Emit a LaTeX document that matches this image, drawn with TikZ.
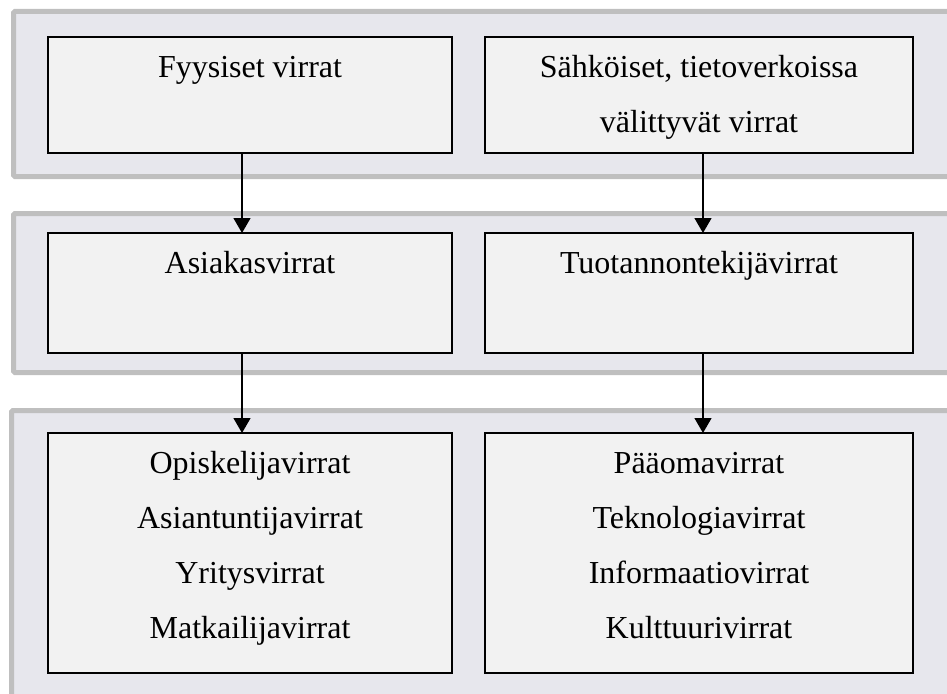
\documentclass[tikz,border=0pt]{standalone}
\usepackage{fontspec}
\setmainfont{Liberation Serif}
\usepackage{xcolor}
\definecolor{bandfill}{RGB}{231,231,237}
\definecolor{bandline}{RGB}{191,191,191}
\definecolor{boxfill}{RGB}{242,242,242}
\usetikzlibrary{arrows.meta,positioning}
\newcommand{\boxtext}[1]{\begin{tabular}[t]{@{}c@{}}#1\end{tabular}}

\begin{document}
\begin{tikzpicture}[
  x=1pt,y=-1pt,
  band/.style={draw=bandline,line width=5pt,fill=bandfill,rounded corners=1.5pt},
  flowbox/.style={rectangle,draw=black,line width=1.3pt,fill=boxfill,inner sep=0pt,outer sep=0pt},
  lw/.style={minimum width=404pt},
  rw/.style={minimum width=428pt},
  txt/.style={anchor=north,yshift=-2pt,inner sep=0pt,font=\fontsize{32}{55}\selectfont},
  arrow/.style={-{Triangle[width=17pt,length=15pt]},line width=1.3pt}
]
  \useasboundingbox (0,0) rectangle (947,693);
  \clip (0,0) rectangle (947,693);

  % Bands
  \draw[band] (13.5,11.5) rectangle (960,176.5);
  \draw[band] (13.5,213.5) rectangle (960,372.5);
  \draw[band] (11.5,410.5) rectangle (960,710);

  % Top row
  \node[flowbox,lw,minimum height=116pt,anchor=north west,
        label={[txt]north:\boxtext{Fyysiset virrat}}] (fys) at (48,37) {};
  \node[flowbox,rw,minimum height=116pt,right=33pt of fys,
        label={[txt]north:\boxtext{Sähköiset, tietoverkoissa\\välittyvät virrat}}] (sah) {};

  % Middle row
  \node[flowbox,lw,minimum height=120pt,below=80pt of fys,
        label={[txt]north:\boxtext{Asiakasvirrat}}] (asi) {};
  \node[flowbox,rw,minimum height=120pt,below=80pt of sah,
        label={[txt]north:\boxtext{Tuotannontekijävirrat}}] (tuo) {};

  % Bottom row
  \node[flowbox,lw,minimum height=240pt,below=80pt of asi,
        label={[txt]north:\boxtext{Opiskelijavirrat\\Asiantuntijavirrat\\Yritysvirrat\\Matkailijavirrat}}] (opi) {};
  \node[flowbox,rw,minimum height=240pt,below=80pt of tuo,
        label={[txt]north:\boxtext{Pääomavirrat\\Teknologiavirrat\\Informaatiovirrat\\Kulttuurivirrat}}] (paa) {};

  % Arrows
  \draw[arrow] ([xshift=-8pt]fys.south) -- ([xshift=-8pt]asi.north);
  \draw[arrow] ([xshift=4pt]sah.south) -- ([xshift=4pt]tuo.north);
  \draw[arrow] ([xshift=-8pt]asi.south) -- ([xshift=-8pt]opi.north);
  \draw[arrow] ([xshift=4pt]tuo.south) -- ([xshift=4pt]paa.north);
\end{tikzpicture}
\end{document}
